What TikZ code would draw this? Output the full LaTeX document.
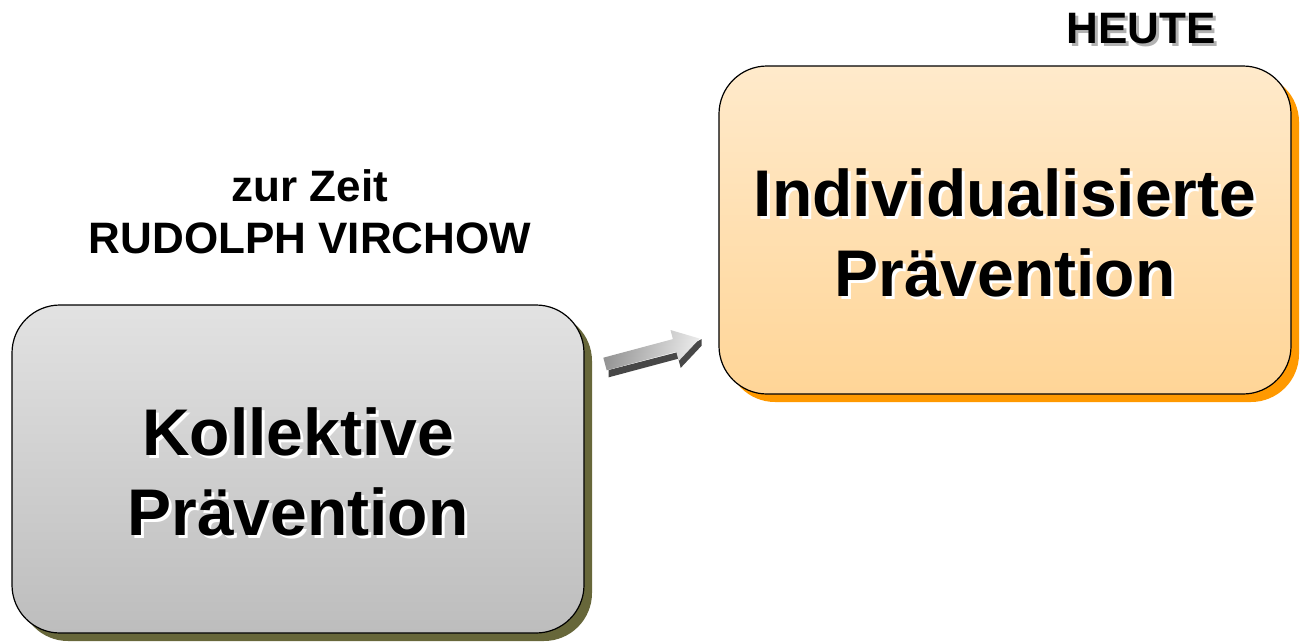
\documentclass[tikz,border=0pt]{standalone}
\usepackage{fontspec}
\setmainfont{Liberation Sans}
\definecolor{olivesh}{HTML}{67673A}
\definecolor{orangesh}{HTML}{FF9900}
\definecolor{graytop}{HTML}{E2E2E2}
\definecolor{graybot}{HTML}{BDBDBD}
\definecolor{ortop}{HTML}{FFEACB}
\definecolor{orbot}{HTML}{FFD597}
\begin{document}
\begin{tikzpicture}[x=1pt,y=-1pt,
  boxshape/.style={rounded corners=48pt, line width=1.2pt, draw=black},
  bigtext/.style={font=\fontsize{66}{80}\selectfont\bfseries, align=center, inner sep=0pt},
  smalltext/.style={font=\fontsize{44}{52}\selectfont\bfseries, align=center, inner sep=0pt},
]
\useasboundingbox (0,0) rectangle (1304,643);
% gray box
\fill[olivesh, rounded corners=48pt] (20,313) rectangle (592,641);
\shade[boxshape, top color=graytop, bottom color=graybot] (12,305) rectangle (584,633);
\coordinate (kc) at (298,472);
\node[bigtext, white] at ([shift={(3,3)}]kc) {Kollektive\\Prävention};
\node[bigtext] (koll) at (kc) {Kollektive\\Prävention};
% orange box
\fill[orangesh, rounded corners=48pt] (727,74) rectangle (1299,402);
\shade[boxshape, top color=ortop, bottom color=orbot] (719,66) rectangle (1291,394);
\coordinate (ic) at (1005,233);
\node[bigtext, white] at ([shift={(3,3)}]ic) {Individualisierte\\Prävention};
\node[bigtext] (indiv) at (ic) {Individualisierte\\Prävention};
% labels
\node[smalltext] (zeit) at (310,212) {zur Zeit\\RUDOLPH VIRCHOW};
\coordinate (hc) at (1141,29);
\node[smalltext, black!30] at ([shift={(3,3)}]hc) {HEUTE};
\node[smalltext] (heute) at (hc) {HEUTE};
% arrow
\begin{scope}[shift={(2,7)}]
\fill[black!72] (606.7,370.3) -- (676.3,351.7) -- (678.7,360.9) -- (699.7,338.6) -- (699.7,332) -- (676.3,345) -- (606.7,363) -- cycle;
\end{scope}
\shade[left color=black!42, right color=black!8, shading angle=75]
  (603.3,357.7) -- (672.9,339.1) -- (670.5,330.0) -- (699.7,338.6) -- (678.7,360.9) -- (676.3,351.7) -- (606.7,370.3) -- cycle;
\end{tikzpicture}
\end{document}
